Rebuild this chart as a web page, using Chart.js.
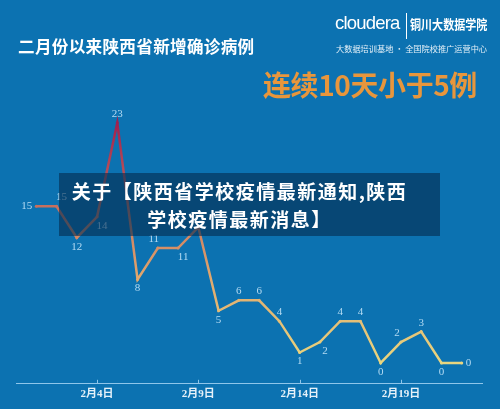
<!DOCTYPE html>
<html>
<head>
<meta charset="utf-8">
<script src="https://cdn.jsdelivr.net/npm/chart.js@4/dist/chart.umd.min.js"></script>
<style>
  html, body { margin: 0; padding: 0; }
  body { width: 500px; height: 409px; background: #0c72b1; position: relative; overflow: hidden;
         font-family: "Noto Sans CJK SC", sans-serif; }
  #chart { position: absolute; left: 0; top: 0; }
  .title { position: absolute; left: 18px; top: 34px; color: #fff; font-size: 16.6px; font-weight: bold; letter-spacing: 0.3px; }
  .logo { position: absolute; left: 335px; top: 10px; color: #fff; }
  .logo .brand { position: absolute; left: 0; top: 2px; font-family: "Liberation Sans", sans-serif; font-size: 18.5px; letter-spacing: -0.8px; white-space: nowrap; }
  .logo .bar { position: absolute; left: 71px; top: 3px; width: 1px; height: 26px; background: #fff; }
  .logo .school { position: absolute; left: 75px; top: 4px; font-size: 13px; font-weight: bold; white-space: nowrap;
                  transform: scaleX(0.85); transform-origin: left top; }
  .logo .sub { position: absolute; left: 1px; top: 32px; font-size: 8.2px; white-space: nowrap; color: #e4f0f8; }
  .slogan { position: absolute; left: 263px; top: 64px; color: #e8963c; font-size: 28px; font-weight: bold; letter-spacing: -0.4px; white-space: nowrap; }
  .banner { position: absolute; left: 59px; top: 173px; width: 381px; height: 63px; background: rgba(5, 45, 80, 0.62);
            color: #fff; font-size: 19px; font-weight: bold; line-height: 28px; text-align: center; letter-spacing: 1.5px;
            box-sizing: border-box; padding: 4px 20px 0 0; white-space: nowrap; }
</style>
</head>
<body>
<canvas id="chart" width="500" height="409"></canvas>
<div class="title">二月份以来陕西省新增确诊病例</div>
<div class="logo">
  <div class="brand">cloudera</div>
  <div class="bar"></div>
  <div class="school">铜川大数据学院</div>
  <div class="sub">大数据培训基地 · 全国院校推广运营中心</div>
</div>
<div class="slogan">连续10天小于5例</div>
<div class="banner">关于【陕西省学校疫情最新通知,陕西<br>学校疫情最新消息】</div>
<script>
// data: day of February and new confirmed cases
const days = [1, 2, 3, 4, 5, 6, 7, 8, 9, 10, 11, 12, 13, 14, 15, 16, 17, 18, 19, 20, 21, 22];
const cases = [15, 15, 12, 14, 23, 8, 11, 11, 13, 5, 6, 6, 4, 1, 2, 4, 4, 0, 2, 3, 0, 0];
const tickDays = [4, 9, 14, 19];
const tickLabels = ['2月4日', '2月9日', '2月14日', '2月19日'];

// where each value label sits relative to its point
const labelPos = ['l', 'tr', 'b', 'br', 't', 'b', 'tl', 'br', 't', 'b', 't', 't',
                  't', 'b', 'br', 't', 't', 'b', 'tl', 't', 'b', 'r'];

const axisColor = '#8fc6ea';

function lineGradient(context) {
    const chart = context.chart;
    const { ctx, chartArea, scales } = chart;
    if (!chartArea) return '#d89a6a';
    const y0 = scales.y.getPixelForValue(0);
    const y1 = scales.y.getPixelForValue(23);
    const g = ctx.createLinearGradient(0, y0, 0, y1);
    g.addColorStop(0, '#e9d67f');
    g.addColorStop(0.35, '#e1a86e');
    g.addColorStop(0.65, '#c7705e');
    g.addColorStop(1, '#a01f4f');
    return g;
}

const valueLabels = {
    id: 'valueLabels',
    afterDatasetsDraw(chart) {
        const ctx = chart.ctx;
        const meta = chart.getDatasetMeta(0);
        ctx.save();
        ctx.font = '11px "Liberation Serif", serif';
        ctx.fillStyle = '#b4dbf3';
        ctx.textBaseline = 'middle';
        meta.data.forEach((pt, i) => {
            const pos = labelPos[i];
            let dx = 0, dy = 0;
            ctx.textAlign = 'center';
            if (pos.includes('t')) dy = -9;
            if (pos.includes('b')) dy = 9;
            if (pos === 'l') { dx = -4; ctx.textAlign = 'right'; }
            else if (pos === 'r') { dx = 4; ctx.textAlign = 'left'; }
            else if (pos.includes('l')) dx = -4;
            else if (pos.includes('r')) dx = 5;
            ctx.fillText(String(cases[i]), pt.x + dx, pt.y + dy);
        });
        // small axis ticks pointing up
        const xs = chart.scales.x;
        const base = chart.chartArea.bottom;
        ctx.strokeStyle = axisColor;
        ctx.lineWidth = 1;
        tickDays.forEach(d => {
            const x = Math.round(xs.getPixelForValue(d)) + 0.5;
            ctx.beginPath();
            ctx.moveTo(x, base);
            ctx.lineTo(x, base - 4);
            ctx.stroke();
        });
        ctx.restore();
    }
};

new Chart(document.getElementById('chart').getContext('2d'), {
    type: 'line',
    data: {
        datasets: [{
            data: days.map((d, i) => ({ x: d, y: cases[i] })),
            borderColor: lineGradient,
            backgroundColor: lineGradient,
            borderWidth: 2.5,
            pointRadius: 1.5,
            pointHoverRadius: 1.5,
            pointBorderWidth: 0,
            tension: 0
        }]
    },
    options: {
        responsive: false,
        animation: false,
        events: [],
        layout: { padding: { left: 16, right: 18, top: 102, bottom: 4 } },
        plugins: { legend: { display: false }, tooltip: { enabled: false } },
        scales: {
            x: {
                type: 'linear',
                min: 0,
                max: 23,
                grid: { display: false, drawTicks: false },
                border: { display: true, color: axisColor, width: 1 },
                afterBuildTicks: axis => { axis.ticks = tickDays.map(v => ({ value: v })); },
                ticks: {
                    autoSkip: false,
                    maxRotation: 0,
                    padding: 4,
                    color: '#e6f1f9',
                    font: { size: 11, family: '"Liberation Serif", "Noto Sans CJK SC", serif', weight: 'bold' },
                    callback: v => tickLabels[tickDays.indexOf(v)]
                }
            },
            y: {
                display: false,
                min: -2,
                max: 25
            }
        }
    },
    plugins: [valueLabels]
});
</script>
</body>
</html>
